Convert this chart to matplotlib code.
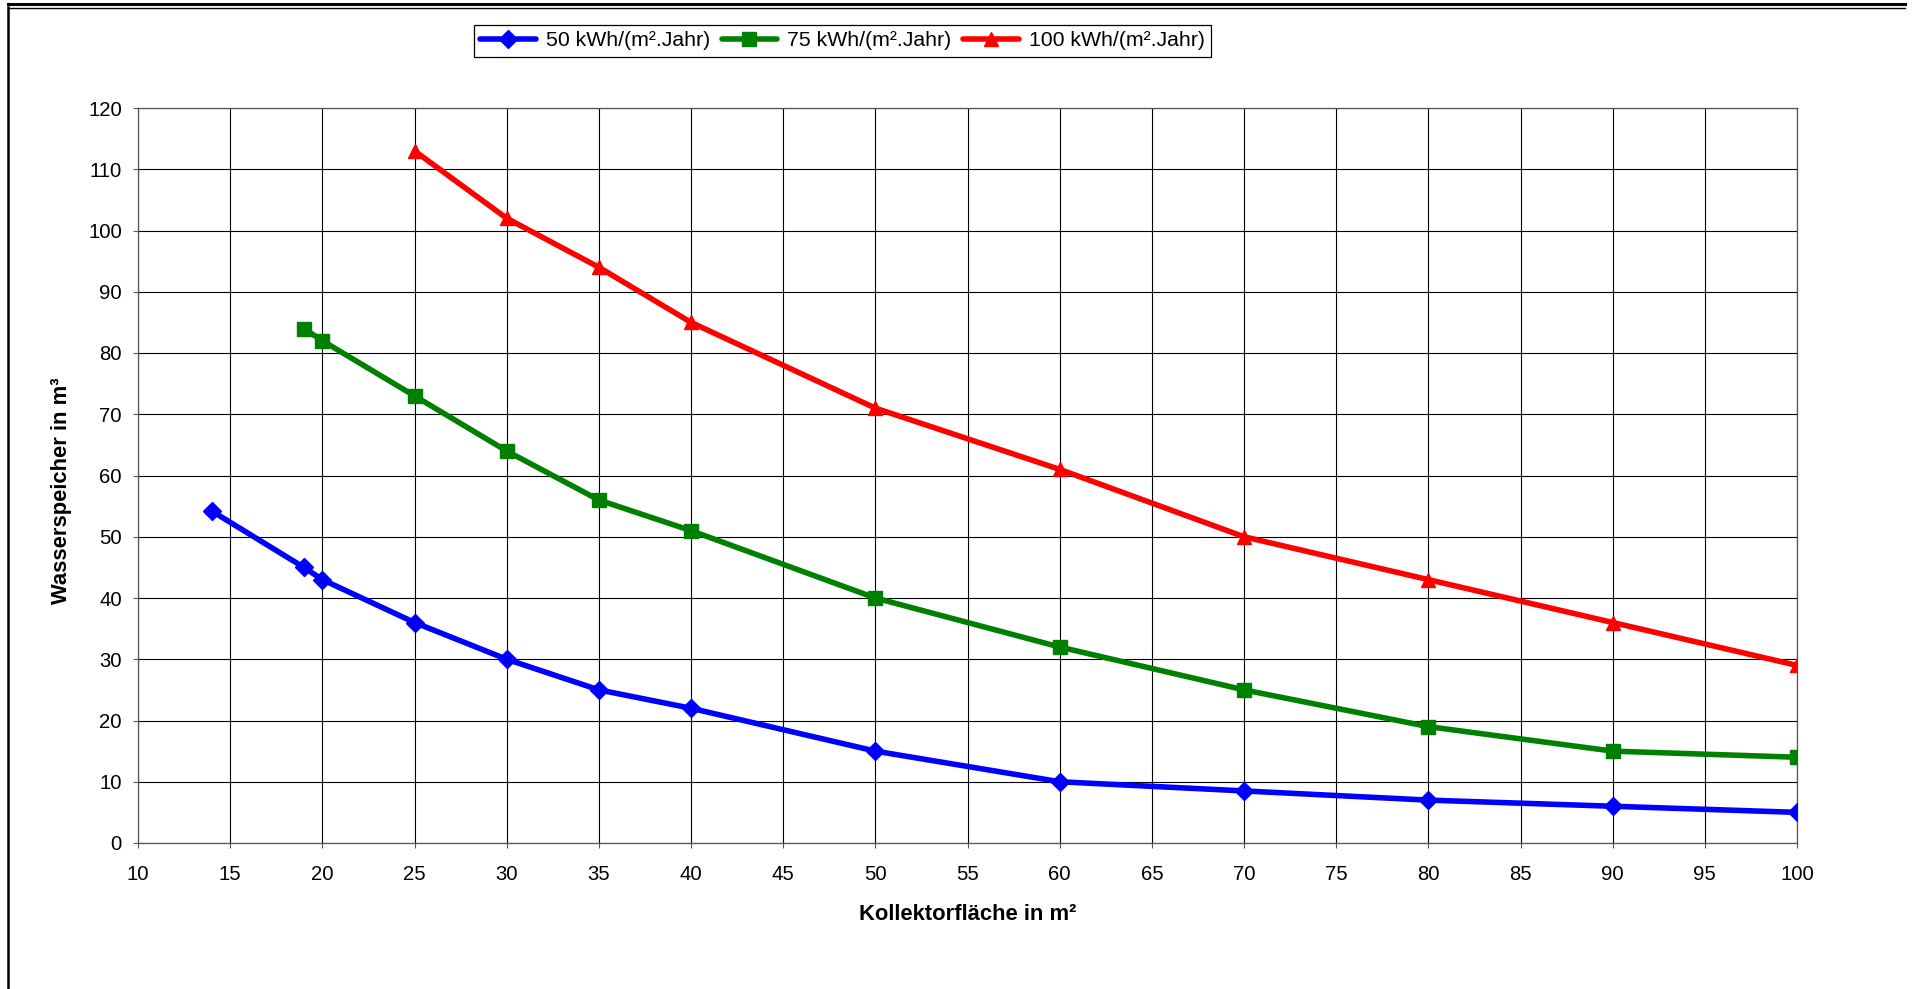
import matplotlib
matplotlib.use("Agg")
import matplotlib.pyplot as plt
from matplotlib.lines import Line2D

plt.rcParams["font.family"] = ["Liberation Sans", "DejaVu Sans"]

# Kollektorfläche (m²) und Wasserspeicher (m³) je Heizwärmebedarf
x_50 = [14, 19, 20, 25, 30, 35, 40, 50, 60, 70, 80, 90, 100]
y_50 = [54.2, 45, 43, 36, 30, 25, 22, 15, 10, 8.5, 7, 6, 5]

x_75 = [19, 20, 25, 30, 35, 40, 50, 60, 70, 80, 90, 100]
y_75 = [84, 82, 73, 64, 56, 51, 40, 32, 25, 19, 15, 14]

x_100 = [25, 30, 35, 40, 50, 60, 70, 80, 90, 100]
y_100 = [113, 102, 94, 85, 71, 61, 50, 43, 36, 29]

labels = ["50 kWh/(m².Jahr)", "75 kWh/(m².Jahr)", "100 kWh/(m².Jahr)"]
x_ticks = list(range(10, 101, 5))
y_ticks = list(range(0, 121, 10))

W, H = 1912, 989
fig = plt.figure(figsize=(W / 100, H / 100), dpi=100)
ax = fig.add_axes([138 / W, 1 - 843 / H, (1797 - 138) / W, (843 - 108) / H])

style = dict(lw=4, solid_joinstyle="round", solid_capstyle="round", zorder=3)
ax.plot(x_50, y_50, color="#0000FF", marker="D", ms=9.5, label=labels[0], **style)
ax.plot(x_75, y_75, color="#008000", marker="s", ms=10.2, label=labels[1], **style)
ax.plot(x_100, y_100, color="#FF0000", marker="^", ms=10.5, label=labels[2], **style)

ax.set_xlim(10, 100)
ax.set_ylim(0, 120)
ax.set_xticks(x_ticks)
ax.set_yticks(y_ticks)
ax.grid(True, color="black", lw=0.8)
ax.set_axisbelow(True)
ax.tick_params(direction="out", length=3.6, width=0.8, color="#555555",
               labelsize=14.6)
ax.tick_params(axis="x", pad=12.5)
ax.tick_params(axis="y", pad=8)
for s in ax.spines.values():
    s.set_color("#555555")
    s.set_linewidth(0.9)

ax.set_xlabel("Kollektorfläche in m²", fontsize=15.8, fontweight="bold")
ax.set_ylabel("Wasserspeicher in m³", fontsize=15.8, fontweight="bold")
ax.xaxis.set_label_coords(0.5003, -0.083)
ax.yaxis.set_label_coords(-0.040, 0.479)

leg = fig.legend(loc="upper left", bbox_to_anchor=(474 / W, 1 - 25 / H), ncol=3,
                 fontsize=15.3, frameon=True, fancybox=False, edgecolor="black",
                 framealpha=1, borderaxespad=0, handlelength=2.63,
                 handletextpad=0.47, columnspacing=0.52, borderpad=0.3)
leg.get_frame().set_linewidth(0.9)

# Rahmen des Diagrammbereichs
fig.add_artist(Line2D([8 / W, 1905 / W], [1 - 4 / H, 1 - 4 / H], color="black", lw=2.2))
fig.add_artist(Line2D([8 / W, 1905 / W], [1 - 7.5 / H, 1 - 7.5 / H], color="black", lw=1.0))
fig.add_artist(Line2D([8 / W, 8 / W], [1 - 7 / H, 0], color="black", lw=1.8))

fig.savefig("out.png", dpi=100)
